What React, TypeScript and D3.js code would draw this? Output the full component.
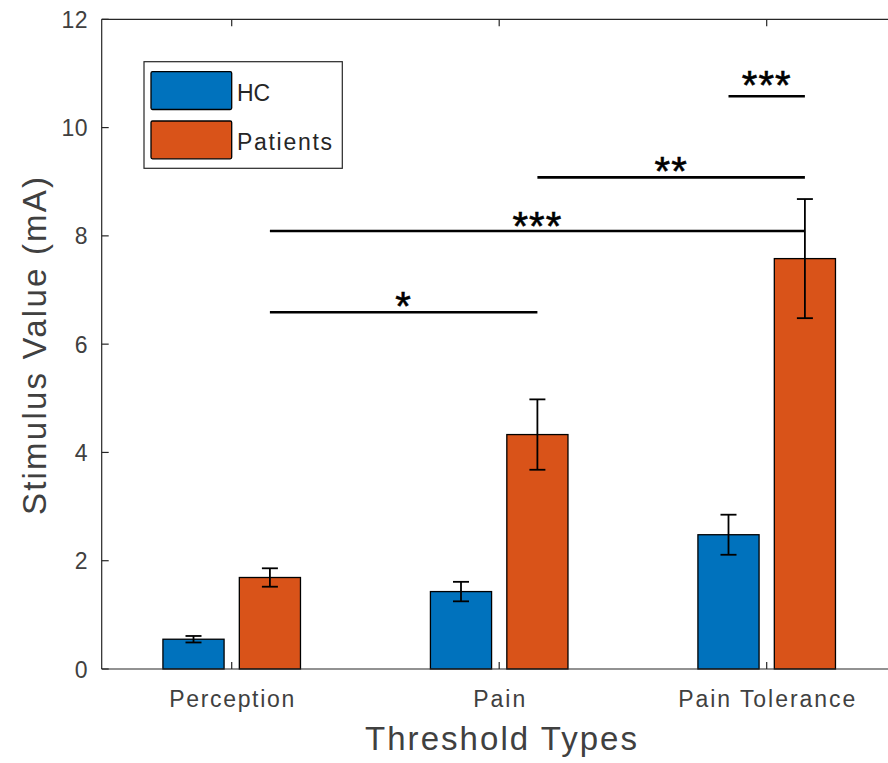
import React from 'react';
import * as d3 from 'd3';

const categories = ['Perception', 'Pain', 'Pain Tolerance'];
const seriesNames = ['HC', 'Patients'];
const hcMeans = [0.55, 1.43, 2.48];
const hcErrors = [0.06, 0.18, 0.37];
const patientMeans = [1.69, 4.33, 7.58];
const patientErrors = [0.17, 0.65, 1.1];
const yTicks = [0, 2, 4, 6, 8, 10, 12];

// significance brackets: [category, series] -> [category, series], line value, label centre value
const sigFrom = [[0, 1], [0, 1], [1, 1], [2, 0]];
const sigTo = [[1, 1], [2, 1], [2, 1], [2, 1]];
const sigLineY = [6.59, 8.09, 9.08, 10.58];
const sigLabelY = [6.81, 8.29, 9.3, 10.89];
const sigLabels = ['*', '***', '**', '***'];

const colors = ['#0072BD', '#D95319'];
const axisColor = '#262626';
const font = '"Liberation Sans", Arial, Helvetica, sans-serif';

const W = 888;
const H = 763;

const App = () => {
  const x = d3.scaleLinear().domain([0.514, 3.486]).range([101.7, 896.7]);
  const y = d3.scaleLinear().domain([0, 12]).range([669, 19.3]);

  const groupOffset = 0.1428;
  const barW = x(0.2286) - x(0);
  const barX = (c: number, s: number) => x(c + 1 + (s === 0 ? -groupOffset : groupOffset));

  const means = [hcMeans, patientMeans];
  const errs = [hcErrors, patientErrors];
  const capW = 16;

  return (
    <svg width={W} height={H} style={{ position: 'absolute', left: 0, top: 0, background: '#fff' }}>
      {/* bars */}
      {means.map((vals, s) =>
        vals.map((v, c) => (
          <rect
            key={`b${s}${c}`}
            x={barX(c, s) - barW / 2}
            y={y(v)}
            width={barW}
            height={y(0) - y(v)}
            fill={colors[s]}
            stroke="#000"
            strokeWidth={1.3}
          />
        ))
      )}

      {/* error bars */}
      {means.map((vals, s) =>
        vals.map((v, c) => {
          const cx = barX(c, s);
          const e = errs[s][c];
          return (
            <g key={`e${s}${c}`} stroke="#000" strokeWidth={1.8}>
              <line x1={cx} x2={cx} y1={y(v - e)} y2={y(v + e)} />
              <line x1={cx - capW / 2} x2={cx + capW / 2} y1={y(v + e)} y2={y(v + e)} />
              <line x1={cx - capW / 2} x2={cx + capW / 2} y1={y(v - e)} y2={y(v - e)} />
            </g>
          );
        })
      )}

      {/* significance lines */}
      {sigLabels.map((lab, i) => {
        const x1 = barX(sigFrom[i][0], sigFrom[i][1]);
        const x2 = barX(sigTo[i][0], sigTo[i][1]);
        return (
          <g key={`s${i}`}>
            <line x1={x1} x2={x2} y1={y(sigLineY[i])} y2={y(sigLineY[i])} stroke="#000" strokeWidth={2.6} />
            <text
              x={(x1 + x2) / 2}
              y={y(sigLabelY[i]) + 20}
              textAnchor="middle"
              fontFamily={font}
              fontSize={40}
              letterSpacing={1}
              fill="#000"
              stroke="#000"
              strokeWidth={0.6}
            >
              {lab}
            </text>
          </g>
        );
      })}

      {/* axes box */}
      <g stroke={axisColor} strokeWidth={1.2} fill="none">
        <line x1={x.range()[0]} x2={W} y1={y(0)} y2={y(0)} />
        <line x1={x.range()[0]} x2={W} y1={y(12)} y2={y(12)} />
        <line x1={x.range()[0]} x2={x.range()[0]} y1={y(0)} y2={y(12)} />
        {yTicks.map((t) => (
          <line key={`yt${t}`} x1={x.range()[0]} x2={x.range()[0] + 7} y1={y(t)} y2={y(t)} />
        ))}
        {categories.map((c, i) => (
          <g key={`xt${i}`}>
            <line x1={x(i + 1)} x2={x(i + 1)} y1={y(0)} y2={y(0) - 7} />
            <line x1={x(i + 1)} x2={x(i + 1)} y1={y(12)} y2={y(12) + 7} />
          </g>
        ))}
      </g>

      {/* y tick labels */}
      {yTicks.map((t) => (
        <text
          key={`yl${t}`}
          x={88}
          y={y(t) + 8.5}
          textAnchor="end"
          fontFamily={font}
          fontSize={23}
          letterSpacing={0.5}
          fill="#404040"
        >
          {t}
        </text>
      ))}

      {/* x tick labels */}
      {categories.map((c, i) => {
        const lens = [125, 52, 177];
        return (
          <text
            key={`xl${i}`}
            x={x(i + 1)}
            y={707}
            textAnchor="middle"
            fontFamily={font}
            fontSize={23}
            textLength={lens[i]}
            lengthAdjust="spacing"
            fill="#404040"
          >
            {c}
          </text>
        );
      })}

      {/* axis labels */}
      <text
        x={(365 + 637) / 2}
        y={750}
        textAnchor="middle"
        fontFamily={font}
        fontSize={33}
        textLength={272}
        lengthAdjust="spacing"
        fill="#404040"
      >
        Threshold Types
      </text>
      <text
        transform={`translate(46, ${(177 + 515) / 2}) rotate(-90)`}
        textAnchor="middle"
        fontFamily={font}
        fontSize={33}
        textLength={338}
        lengthAdjust="spacing"
        fill="#404040"
      >
        Stimulus Value (mA)
      </text>

      {/* legend */}
      <rect x={144} y={61.7} width={198.3} height={106.6} fill="#fff" stroke={axisColor} strokeWidth={1.2} />
      {seriesNames.map((n, i) => {
        const top = [71.7, 121][i];
        return (
          <g key={`lg${i}`}>
            <rect x={151} y={top} width={80.7} height={37.8} rx={1.5} fill={colors[i]} stroke="#000" strokeWidth={1.3} />
            <text
              x={237}
              y={top + 29}
              fontFamily={font}
              fontSize={23}
              textLength={i === 0 ? undefined : 95}
              lengthAdjust="spacing"
              fill="#262626"
            >
              {n}
            </text>
          </g>
        );
      })}
    </svg>
  );
};

export default App;
